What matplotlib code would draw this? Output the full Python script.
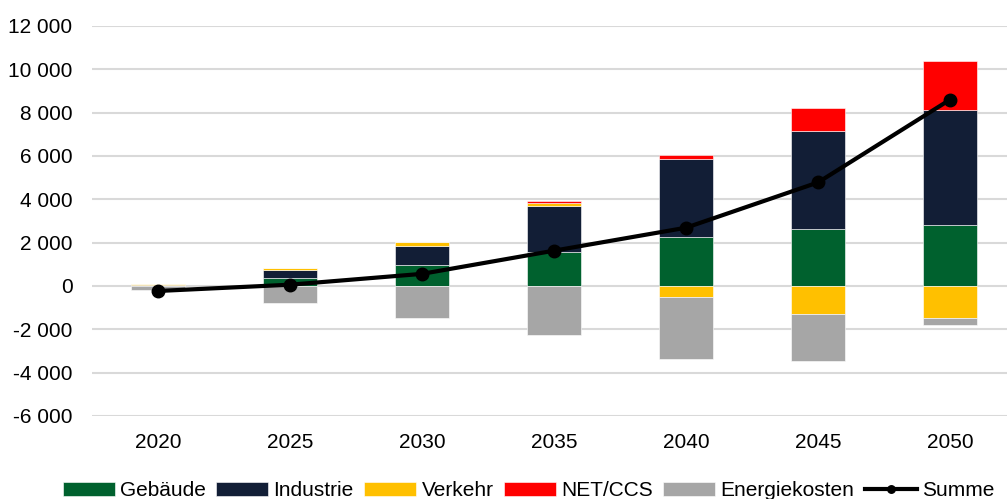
"""Stacked bars with net sum line, 2020-2050."""
import numpy as np
import matplotlib
matplotlib.use("Agg")
import matplotlib.pyplot as plt
from matplotlib.ticker import FuncFormatter

years = ["2020", "2025", "2030", "2035", "2040", "2045", "2050"]

gebaeude = [20, 390, 950, 1550, 2240, 2620, 2820]
industrie = [20, 345, 890, 2140, 3600, 4520, 5290]
verkehr = [60, 100, 200, 140, -520, -1290, -1500]
net_ccs = [0, 0, 0, 80, 215, 1075, 2270]
energiekosten = [-200, -780, -1470, -2250, -2840, -2160, -280]
summe = [-230, 60, 560, 1630, 2690, 4780, 8600]

series = [
    ("Gebäude", gebaeude, "#00612E"),
    ("Industrie", industrie, "#121E36"),
    ("Verkehr", verkehr, "#FFC000"),
    ("NET/CCS", net_ccs, "#FF0000"),
    ("Energiekosten", energiekosten, "#A6A6A6"),
]

plt.rcParams["font.family"] = ["Liberation Sans", "DejaVu Sans"]

fig = plt.figure(figsize=(10.07, 4.99), dpi=100)
ax = fig.add_axes([92 / 1007, 1 - 416 / 499, 924 / 1007, 390 / 499])

x = np.arange(len(years))
pos = np.zeros(len(years))
neg = np.zeros(len(years))
handles = []
for name, vals, col in series:
    v = np.array(vals, dtype=float)
    bottom = np.where(v >= 0, pos, neg)
    h = ax.bar(x, v, width=0.41, bottom=bottom, color=col, label=name,
               edgecolor="white", linewidth=0.4, zorder=2)
    handles.append(h)
    pos += np.where(v >= 0, v, 0)
    neg += np.where(v < 0, v, 0)

line, = ax.plot(x, summe, color="black", lw=3, marker="o", markersize=9,
                label="Summe", zorder=3)
handles.append(line)

ax.set_xlim(-0.5, len(years) - 0.5)
ax.set_ylim(-6000, 12000)
ax.set_yticks(np.arange(-6000, 12001, 2000))
ax.yaxis.set_major_formatter(
    FuncFormatter(lambda v, _: f"{int(v):,}".replace(",", " ")))
ax.set_xticks(x)
ax.set_xticklabels(years)
ax.tick_params(length=0, labelsize=15, colors="black")
ax.tick_params(axis="x", pad=12)
ax.tick_params(axis="y", pad=14)
ax.grid(axis="y", color="#D9D9D9", lw=1.5, zorder=0)
ax.set_axisbelow(True)
for s in ax.spines.values():
    s.set_visible(False)

fig.legend(handles=handles, loc="center", bbox_to_anchor=(0.525, 1 - 491 / 499),
           ncol=6, frameon=False, fontsize=15, handlelength=2.5,
           handleheight=0.65, handletextpad=0.25, columnspacing=0.5,
           borderaxespad=0, markerscale=0.6)

fig.savefig("out.png", dpi=100)
